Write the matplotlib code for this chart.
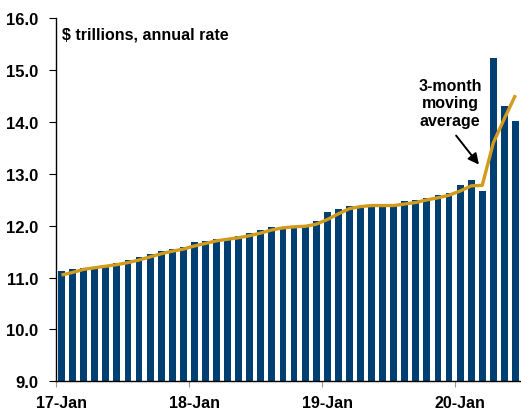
import numpy as np
import matplotlib
matplotlib.use('Agg')
from matplotlib import pyplot as plt

plt.rcParams['font.family'] = ['Liberation Sans', 'DejaVu Sans']
plt.rcParams['font.weight'] = 'bold'

# monthly values, Jan 2017 .. Jun 2020 ($ trillions, annual rate)
income = [
    11.12, 11.16, 11.19, 11.21, 11.25, 11.29, 11.34, 11.39, 11.46, 11.52, 11.55, 11.59,
    11.68, 11.70, 11.75, 11.77, 11.80, 11.86, 11.92, 11.97, 11.98, 11.99, 11.99, 12.10,
    12.26, 12.33, 12.39, 12.39, 12.39, 12.39, 12.40, 12.47, 12.49, 12.53, 12.60, 12.63,
    12.78, 12.89, 12.67, 15.24, 14.31, 14.02,
]
moving_avg = [
    11.05, 11.10, 11.16, 11.19, 11.22, 11.25, 11.29, 11.34, 11.40, 11.46, 11.51, 11.55,
    11.61, 11.66, 11.71, 11.74, 11.77, 11.81, 11.86, 11.92, 11.96, 11.98, 11.99, 12.03,
    12.12, 12.23, 12.33, 12.37, 12.39, 12.39, 12.39, 12.42, 12.45, 12.50, 12.54, 12.59,
    12.67, 12.77, 12.78, 13.60, 14.07, 14.52,
]
year_labels = ['17-Jan', '18-Jan', '19-Jan', '20-Jan']
year_starts = [0, 12, 24, 36]

bar_color = '#003f72'
line_color = '#d39b1c'

x = np.arange(len(income)) + 0.5

fig = plt.figure(figsize=(5.21, 4.10), dpi=100)
ax = fig.add_axes([0.1075, 0.0676, 0.8925, 0.885])

ax.bar(x, income, width=0.62, color=bar_color, zorder=2)
ax.plot(x, moving_avg, color=line_color, linewidth=2.4, zorder=3,
        solid_capstyle='butt')

ax.set_xlim(0, len(income))
ax.set_ylim(9.0, 16.0)
yt = np.arange(9.0, 16.01, 1.0)
ax.set_yticks(yt)
ax.set_yticklabels(['%.1f' % v for v in yt], fontsize=12, fontweight='bold')

# labels sit under the January bar, tick marks on the year boundary
ax.set_xticks([s + 0.5 for s in year_starts])
ax.set_xticklabels(year_labels, fontsize=11.5, fontweight='bold')
ax.set_xticks(year_starts, minor=True)
ax.tick_params(axis='x', which='major', length=0, pad=10)
ax.tick_params(axis='x', which='minor', direction='out', length=4, width=0.8,
               color='#999999')

ax.spines['top'].set_visible(False)
ax.spines['right'].set_visible(False)
ax.spines['left'].set_linewidth(1.0)
ax.spines['bottom'].set_linewidth(1.0)
ax.tick_params(axis='y', direction='out', length=5, width=0.8, pad=8)

ax.text(0.54, 15.70, '$ trillions, annual rate', fontsize=11.5,
        fontweight='bold', va='center', ha='left')

ax.text(35.6, 14.37, '3-month\nmoving\naverage', ha='center', va='center',
        fontsize=11.5, fontweight='bold', linespacing=1.2)
ax.annotate('', xy=(38.2, 13.18), xytext=(36.14, 13.74),
            arrowprops=dict(arrowstyle='-|>', color='black', lw=1.4,
                            mutation_scale=16, shrinkA=0, shrinkB=0))

fig.savefig('out.png', dpi=100)
